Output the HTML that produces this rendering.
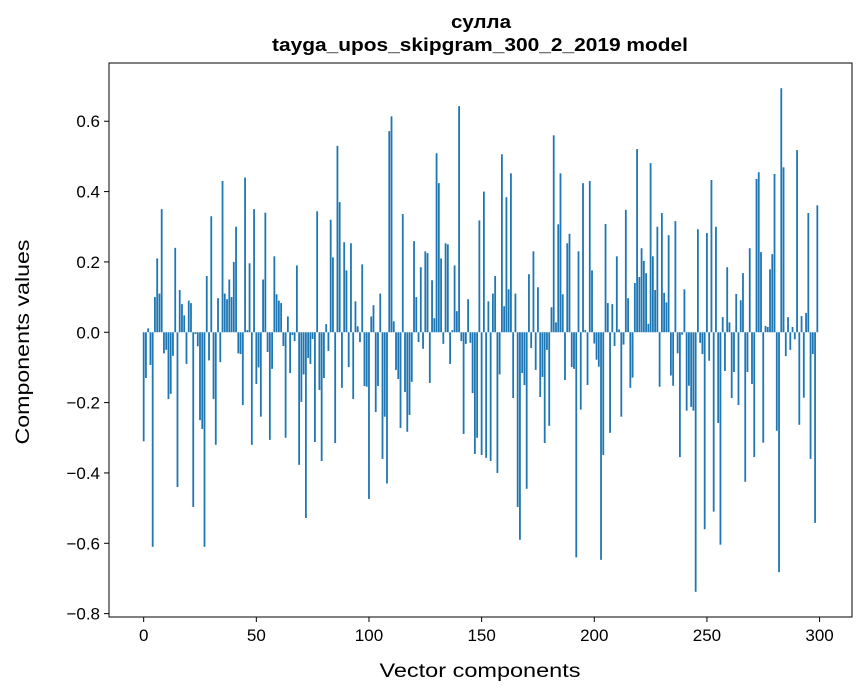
<!DOCTYPE html>
<html><head><meta charset="utf-8"><style>
html,body{margin:0;padding:0;background:#fff;}
svg{display:block;font-family:"Liberation Sans","DejaVu Sans",sans-serif;}
</style></head><body>
<svg id="chart" width="867" height="696" viewBox="0 0 867 696" xmlns="http://www.w3.org/2000/svg">
<rect width="867" height="696" fill="#fff"/>
<text x="481" y="28" text-anchor="middle" font-size="18" font-weight="bold" textLength="60" lengthAdjust="spacingAndGlyphs">сулла</text>
<text x="480" y="51" text-anchor="middle" font-size="18" font-weight="bold" textLength="416" lengthAdjust="spacingAndGlyphs">tayga_upos_skipgram_300_2_2019 model</text>
<g id="bars"></g>
<g id="axes"></g>
<text x="480" y="677" text-anchor="middle" font-size="19" textLength="201" lengthAdjust="spacingAndGlyphs">Vector components</text>
<text transform="translate(29,342) rotate(-90)" text-anchor="middle" font-size="19" textLength="205" lengthAdjust="spacingAndGlyphs">Components values</text>
</svg>
<script>
const values = [
-0.31,-0.13,0.011,-0.093,-0.61,0.10,0.21,0.11,0.35,-0.06,
-0.05,-0.19,-0.175,-0.067,0.24,-0.44,0.12,0.08,0.048,-0.09,
0.09,0.083,-0.497,-0.005,-0.04,-0.25,-0.275,-0.61,0.16,-0.08,
0.33,-0.19,-0.32,0.097,-0.085,0.43,0.11,0.094,0.15,0.10,
0.20,0.30,-0.06,-0.062,-0.207,0.44,0.006,0.196,-0.32,0.35,
-0.147,-0.10,-0.24,0.15,0.34,-0.056,-0.306,-0.104,0.216,0.108,
0.09,0.083,-0.039,-0.30,0.045,-0.116,-0.008,-0.025,0.19,-0.377,
-0.198,-0.12,-0.528,-0.073,-0.09,-0.019,-0.312,0.344,-0.164,-0.366,
-0.13,0.023,-0.053,0.32,0.213,-0.315,0.53,0.37,-0.158,0.256,
0.176,-0.099,0.253,-0.19,0.088,0.017,-0.028,0.193,-0.153,-0.155,
-0.474,0.045,0.077,-0.227,-0.153,0.11,-0.36,-0.24,-0.43,0.572,
0.614,0.031,-0.107,-0.133,-0.272,0.336,-0.17,-0.283,-0.235,-0.141,
0.259,0.10,-0.028,0.185,-0.047,0.23,0.225,-0.144,0.148,0.04,
0.509,0.424,0.21,-0.033,0.253,0.25,-0.09,0.006,0.19,0.06,
0.643,-0.025,-0.289,-0.033,0.094,-0.03,-0.173,-0.346,-0.30,0.318,
-0.349,0.40,-0.357,0.088,-0.366,0.11,0.16,-0.40,-0.12,0.506,
0.074,0.384,0.122,0.452,-0.187,0.11,-0.497,-0.59,-0.116,-0.15,
-0.445,0.165,-0.045,0.23,-0.107,0.128,-0.184,-0.127,-0.315,-0.05,
-0.266,0.071,0.56,0.028,0.307,0.452,0.108,-0.136,0.253,0.28,
-0.099,-0.104,-0.64,0.23,-0.22,0.424,0.006,-0.15,0.43,0.176,
-0.032,-0.078,-0.098,-0.647,-0.349,0.308,0.083,-0.286,0.08,-0.039,
0.216,0.008,-0.24,-0.035,0.348,0.097,-0.158,-0.129,0.14,0.521,
0.157,0.239,0.203,0.168,0.024,0.481,0.216,0.12,0.30,-0.155,
0.339,0.112,0.085,0.276,-0.123,-0.152,0.316,-0.06,-0.355,-0.007,
0.122,-0.223,-0.152,-0.212,-0.223,-0.738,0.293,-0.03,-0.062,-0.56,
0.282,-0.081,0.433,-0.51,0.30,-0.258,-0.604,0.043,-0.11,0.185,
0.028,-0.187,-0.113,0.109,-0.207,0.091,0.168,-0.425,-0.113,0.239,
-0.147,-0.355,0.436,0.455,0.228,-0.314,0.018,0.015,0.179,0.222,
0.45,-0.28,-0.682,0.694,0.469,-0.068,0.043,-0.05,0.015,-0.02,
0.518,-0.263,0.046,-0.186,0.055,0.339,-0.36,-0.062,-0.542,0.361
];
const xTicks = [0,50,100,150,200,250,300];
const yTicks = [-0.8,-0.6,-0.4,-0.2,0.0,0.2,0.4,0.6];

const NS='http://www.w3.org/2000/svg';
const L=109,R=852,T=63,B=617;
const n=values.length;
const xmin=-0.4-0.05*(n-1+0.8), xmax=n-1+0.4+0.05*(n-1+0.8);
let vmin=Math.min(0,...values), vmax=Math.max(0,...values);
const pad=(vmax-vmin)*0.05;
const ymin=vmin-pad, ymax=vmax+pad;
function xs(v){return L+(v-xmin)/(xmax-xmin)*(R-L);}
function ys(v){return B-(v-ymin)/(ymax-ymin)*(B-T);}
const bars=document.getElementById('bars');
values.forEach((v,i)=>{
  const r=document.createElementNS(NS,'rect');
  const x0=xs(i-0.4), x1=xs(i+0.4);
  const y0=ys(Math.max(v,0)), y1=ys(Math.min(v,0));
  r.setAttribute('x',x0);r.setAttribute('width',x1-x0);
  r.setAttribute('y',y0);r.setAttribute('height',Math.max(y1-y0,0.3));
  r.setAttribute('fill','#1f77b4');
  
  
  bars.appendChild(r);
});
const ax=document.getElementById('axes');
const frame=document.createElementNS(NS,'rect');
frame.setAttribute('x',L);frame.setAttribute('y',T);frame.setAttribute('width',R-L);frame.setAttribute('height',B-T);
frame.setAttribute('fill','none');frame.setAttribute('stroke','#000');frame.setAttribute('stroke-width','1');


ax.appendChild(frame);
xTicks.forEach(t=>{
  const x=xs(t);
  const l=document.createElementNS(NS,'line');
  l.setAttribute('x1',x);l.setAttribute('x2',x);l.setAttribute('y1',B);l.setAttribute('y2',B+5);l.setAttribute('stroke','#000');
  
  
  ax.appendChild(l);
  const tx=document.createElementNS(NS,'text');
  tx.setAttribute('x',x);tx.setAttribute('y',B+24);tx.setAttribute('text-anchor','middle');tx.setAttribute('font-size','17');
  tx.textContent=String(t);
  
  
  ax.appendChild(tx);
});
yTicks.forEach(t=>{
  const y=ys(t);
  const l=document.createElementNS(NS,'line');
  l.setAttribute('x1',L-5);l.setAttribute('x2',L);l.setAttribute('y1',y);l.setAttribute('y2',y);l.setAttribute('stroke','#000');
  
  
  ax.appendChild(l);
  const tx=document.createElementNS(NS,'text');
  tx.setAttribute('x',L-9);tx.setAttribute('y',y+6);tx.setAttribute('text-anchor','end');tx.setAttribute('font-size','17');
  tx.textContent=(t<0?'\u2212':'')+Math.abs(t).toFixed(1);
  
  
  ax.appendChild(tx);
});
</script>
</body></html>
